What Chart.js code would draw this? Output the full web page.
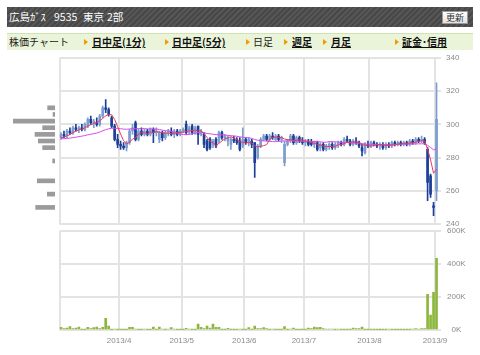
<!DOCTYPE html>
<html>
<head>
<meta charset="utf-8">
<title>広島ガス 株価チャート</title>
<script src="https://cdn.jsdelivr.net/npm/chart.js"></script>
<style>
  body { margin: 0; width: 480px; height: 355px; background: #fff; position: relative; overflow: hidden;
         font-family: "Noto Sans CJK JP", sans-serif; }
  #head { position: absolute; left: 7px; top: 7px; width: 466px; height: 20px; color: #fff; font-size: 10.5px; line-height: 20px;
          background: repeating-linear-gradient(135deg, #484848 0 2px, #565656 2px 4px); }
  #head span { position: absolute; top: 0; white-space: nowrap; }
  #reload { position: absolute; left: 435px; top: 4px; width: 24px; height: 11px; border: 1px solid #999;
            background: linear-gradient(#fff, #e2e2e2); color: #333; font-size: 9px; line-height: 11px; text-align: center; }
  #nav { position: absolute; left: 7px; top: 33px; width: 466px; height: 16px; background: #eaf4d9;
         border-top: 1px solid #d0e2b3; font-size: 10px; line-height: 16px; color: #222; }
  #nav span { position: absolute; top: 0; white-space: nowrap; }
  #nav b { text-decoration: underline; color: #111; }
  #nav i { position: absolute; top: 5px; width: 0; height: 0; border-left: 4px solid #f39a00;
           border-top: 3px solid transparent; border-bottom: 3px solid transparent; }
  canvas { position: absolute; }
</style>
</head>
<body>
  <div id="head">
    <span style="left:2px">広島ｶﾞｽ</span>
    <span style="left:47px">9535</span>
    <span style="left:76px">東京</span>
    <span style="left:100px">2部</span>
    <div id="reload">更新</div>
  </div>
  <div id="nav">
    <span style="left:2px">株価チャート</span>
    <i style="left:77px"></i><span style="left:85px"><b>日中足(1分)</b></span>
    <i style="left:158px"></i><span style="left:165px"><b>日中足(5分)</b></span>
    <i style="left:239px"></i><span style="left:246px">日足</span>
    <i style="left:277px"></i><span style="left:285px"><b>週足</b></span>
    <i style="left:316px"></i><span style="left:324px"><b>月足</b></span>
    <i style="left:388px"></i><span style="left:395px"><b>証金･信用</b></span>
  </div>

  <canvas id="profile" width="56" height="180" style="left:0;top:50px"></canvas>
  <canvas id="price" width="422" height="180" style="left:58px;top:50px"></canvas>
  <canvas id="volume" width="422" height="129" style="left:58px;top:226px"></canvas>

  <script>
    // trading days, 2013/3/1 - 2013/9/3
    const dates = [
      '3/1','3/4','3/5','3/6','3/7','3/8','3/11','3/12','3/13','3/14','3/15','3/18','3/19','3/21','3/22','3/25','3/26','3/27','3/28','3/29',
      '4/1','4/2','4/3','4/4','4/5','4/8','4/9','4/10','4/11','4/12','4/15','4/16','4/17','4/18','4/19','4/22','4/23','4/24','4/25','4/26','4/30',
      '5/1','5/2','5/7','5/8','5/9','5/10','5/13','5/14','5/15','5/16','5/17','5/20','5/21','5/22','5/23','5/24','5/27','5/28','5/29','5/30','5/31',
      '6/3','6/4','6/5','6/6','6/7','6/10','6/11','6/12','6/13','6/14','6/17','6/18','6/19','6/20','6/21','6/24','6/25','6/26','6/27','6/28',
      '7/1','7/2','7/3','7/4','7/5','7/8','7/9','7/10','7/11','7/12','7/16','7/17','7/18','7/19','7/22','7/23','7/24','7/25','7/26','7/29','7/30','7/31',
      '8/1','8/2','8/5','8/6','8/7','8/8','8/9','8/12','8/13','8/14','8/15','8/16','8/19','8/20','8/21','8/22','8/23','8/26','8/27','8/28','8/29','8/30',
      '9/2','9/3'
    ];

    const opens = [
      292,294,293,296,295,298,297,298,297,299,303,301,301,300,305,310,309,304,299,291,
      288,287,286,289,296,301,291,296,294,296,294,297,295,291,295,292,295,296,294,296,294,
      296,300,296,299,295,299,294,294,290,291,288,291,290,295,292,290,288,291,291,290,287,
      291,289,290,289,280,287,291,293,291,293,291,293,291,277,288,290,293,289,292,290,
      289,290,289,288,289,286,288,285,287,288,286,288,289,288,291,290,288,290,289,286,283,288,
      287,289,288,287,288,286,288,287,289,288,289,288,289,288,290,289,291,290,291,285,269,251,
      260,null
    ];
    const highs = [
      295,296,297,298,299,300,299,300,301,304,305,303,304,306,311,315,310,305,300,294,
      290,289,290,297,300,302,297,298,297,297,298,298,298,296,296,296,297,298,297,297,297,
      298,302,299,300,299,299,297,295,291,292,291,292,296,296,294,293,292,293,292,292,298,
      292,292,291,289,288,292,294,294,294,295,294,294,293,290,291,294,294,293,293,292,
      291,291,291,290,290,289,289,288,289,289,289,290,290,292,293,291,291,292,290,288,289,290,
      290,290,289,289,289,289,289,290,290,290,290,290,290,291,291,292,292,293,292,286,270,253,
      325,null
    ];
    const lows = [
      291,292,292,294,294,296,295,296,296,298,300,298,299,299,304,307,305,298,290,286,
      285,285,284,288,294,290,290,293,293,293,293,289,293,289,290,291,293,293,292,293,293,
      295,294,294,294,294,288,293,286,284,285,286,286,289,291,290,287,285,289,288,284,286,
      288,287,286,268,279,286,290,290,290,291,290,290,289,275,287,289,288,288,289,288,
      287,287,287,286,284,284,284,284,285,285,285,286,287,287,289,287,287,288,286,281,282,286,
      286,287,286,285,285,285,286,286,287,287,287,287,287,287,288,288,289,289,288,254,256,245,
      254,null
    ];
    const closes = [
      294,293,296,295,298,297,298,297,300,303,301,302,300,305,310,309,306,299,291,288,
      287,286,289,296,298,291,296,294,296,294,297,295,296,295,292,295,296,294,296,294,296,
      297,295,298,295,298,294,296,288,285,286,290,287,295,292,293,292,291,290,289,285,291,
      289,291,288,277,287,291,293,291,293,292,293,291,292,288,290,293,289,292,290,289,
      290,288,288,289,285,288,285,287,288,286,288,289,288,291,290,288,290,289,287,284,288,287,
      289,288,287,288,286,288,287,289,288,289,288,289,288,290,289,291,290,291,289,265,258,250,
      303,null
    ];
    // closes before 3/1, only used for the moving averages
    const prevCloses = [
      290,291,292,291,290,289,290,291,292,293,292,291,
      290,291,292,293,292,291,290,291,292,291,292,291
    ];
    // volume, thousand shares
    const volumes = [
      16,8,12,20,8,12,18,4,4,16,8,14,18,8,16,71,24,4,6,4,
      3,3,4,16,16,6,4,3,6,4,4,18,4,18,6,4,6,14,6,3,3,
      3,10,6,4,4,36,16,8,24,12,36,16,16,4,4,10,4,3,4,6,3,
      4,14,4,24,8,8,14,8,4,6,4,4,4,20,4,6,12,4,4,4,
      4,12,8,18,14,16,8,6,6,6,4,6,4,4,4,4,12,8,8,18,4,3,
      3,3,3,2,3,3,6,3,4,4,4,4,4,4,6,8,6,8,8,216,91,228,
      434,null
    ];

    // price-by-volume bars on the left
    const profilePrices = [310, 306, 302, 298, 294, 290, 286, 278, 266, 258, 250];
    const profileVolumes = [44, 12, 250, 74, 120, 100, 74, 14, 106, 46, 116];

    const priceTicks = [240, 260, 280, 300, 320, 340];
    const volumeTicks = [0, 200, 400, 600];

    const UP = '#7d9dd0', DOWN = '#1d3f98';
    const GRID = '#e3e3e3';
    const tickFont = { family: 'Liberation Sans', size: 8 };

    function movingAverage(n) {
      const all = prevCloses.concat(closes);
      return closes.map((c, i) => {
        if (c == null) return null;
        const end = prevCloses.length + i + 1;
        return all.slice(end - n, end).reduce((a, b) => a + b, 0) / n;
      });
    }

    const monthOf = d => d.split('/')[0];
    const monthStart = dates.map((d, i) => i > 0 && monthOf(d) !== monthOf(dates[i - 1]));
    const vGrid = c => (c.index === 0 || c.index >= dates.length || monthStart[c.index]) ? GRID : 'rgba(0,0,0,0)';

    // keep the plot area where the layout padding puts it
    const noPad = s => { s.paddingTop = 0; s.paddingBottom = 0; s.paddingLeft = 0; s.paddingRight = 0; };

    const bodies = opens.map((o, i) => o == null ? null : [o, closes[i]]);
    const wicks = lows.map((l, i) => l == null ? null : [l, highs[i]]);
    const colors = opens.map((o, i) => closes[i] >= o ? UP : DOWN);

    Chart.defaults.animation = false;
    Chart.defaults.plugins.legend.display = false;
    Chart.defaults.plugins.tooltip.enabled = false;

    new Chart(document.getElementById('price'), {
      type: 'bar',
      data: {
        labels: dates,
        datasets: [
          { type: 'line', data: movingAverage(5), borderColor: '#e83a5e', borderWidth: 1, pointRadius: 0, order: 0 },
          { type: 'line', data: movingAverage(25), borderColor: '#d84cec', borderWidth: 1, pointRadius: 0, order: 0 },
          { data: bodies, backgroundColor: colors, barThickness: 2, minBarLength: 1, grouped: false, order: 1 },
          { data: wicks, backgroundColor: colors, barThickness: 1, grouped: false, order: 2 }
        ]
      },
      options: {
        responsive: false,
        layout: { padding: { left: 1.5, top: 8, right: 0, bottom: 6 } },
        scales: {
          x: {
            ticks: { display: false },
            grid: { color: vGrid, lineWidth: 2, drawTicks: false },
            border: { display: false },
            afterFit: s => { s.height = 0; noPad(s); }
          },
          y: {
            position: 'right', min: 240, max: 340,
            afterBuildTicks: s => { s.ticks = priceTicks.map(v => ({ value: v })); },
            ticks: { font: tickFont, color: '#8a8a8a', padding: 5 },
            grid: { color: GRID, lineWidth: 2, drawTicks: false },
            border: { display: false },
            afterFit: s => { s.width = 39; noPad(s); }
          }
        }
      }
    });

    new Chart(document.getElementById('volume'), {
      type: 'bar',
      data: {
        labels: dates,
        datasets: [{ data: volumes, backgroundColor: '#8db63c', barThickness: 2 }]
      },
      options: {
        responsive: false,
        layout: { padding: { left: 1.5, top: 5, right: 0, bottom: 5 } },
        scales: {
          x: {
            ticks: {
              autoSkip: false, maxRotation: 0, font: tickFont, color: '#8a8a8a', padding: 6, labelOffset: -1.5,
              callback: (v, i) => monthStart[i] ? '2013/' + monthOf(dates[i]) : ''
            },
            grid: { color: vGrid, lineWidth: 2, drawTicks: false },
            border: { display: false },
            afterFit: s => { s.height = 20; noPad(s); }
          },
          y: {
            position: 'right', min: 0, max: 600,
            afterBuildTicks: s => { s.ticks = volumeTicks.map(v => ({ value: v })); },
            ticks: { font: tickFont, color: '#8a8a8a', padding: 6, crossAlign: 'center', callback: v => v + 'K' },
            grid: { color: GRID, lineWidth: 2, drawTicks: false },
            border: { display: false },
            afterFit: s => { s.width = 39; noPad(s); }
          }
        }
      }
    });

    // same price range as the candle chart, bars grow leftwards
    new Chart(document.getElementById('profile'), {
      type: 'bar',
      data: {
        datasets: [{
          data: profilePrices.map((p, i) => ({ y: p, x: profileVolumes[i] })),
          backgroundColor: '#9b9b9b', barThickness: 4
        }]
      },
      options: {
        responsive: false,
        indexAxis: 'y',
        layout: { padding: { left: 0, top: 8, right: 1, bottom: 6 } },
        scales: {
          x: { type: 'linear', min: 0, max: 330, reverse: true, display: false },
          y: { type: 'linear', min: 240, max: 340, offset: false, display: false }
        }
      }
    });
  </script>
</body>
</html>
